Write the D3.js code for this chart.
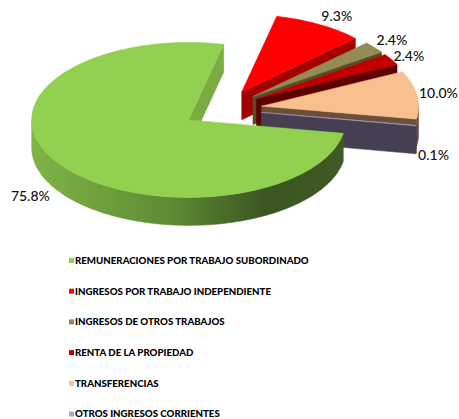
<!DOCTYPE html>
<html>
<head>
<meta charset="utf-8">
<script src="https://cdn.jsdelivr.net/npm/d3@7"></script>
<style>
  body { margin: 0; background: #fff; }
  svg { display: block; }
</style>
</head>
<body>
<script>
// chart data
var categories = [
  "REMUNERACIONES POR TRABAJO SUBORDINADO",
  "INGRESOS POR TRABAJO INDEPENDIENTE",
  "INGRESOS DE OTROS TRABAJOS",
  "RENTA DE LA PROPIEDAD",
  "TRANSFERENCIAS",
  "OTROS INGRESOS CORRIENTES"
];
var values = [75.8, 9.3, 2.4, 2.4, 10.0, 0.1];

// colours (top face / cut face / legend)
var topColors  = ["#92d050", "#ff0000", "#948a54", "#c00000", "#f8bf8f", "#b2a1c7"];
var sideColors = ["#7aac42", "#a30000", "#55502c", "#5c0000", "#6b4f38", "#463f52"];

var width = 459, height = 419;
var cx = 222, cy = 109, rx = 157, ry = 77.5, depth = 28, explode = 40;

var svg = d3.select("body").append("svg")
    .attr("width", width)
    .attr("height", height);

var topColor  = d3.scaleOrdinal(categories, topColors);
var sideColor = d3.scaleOrdinal(categories, sideColors);

// gradient for the big slice's round side
var defs = svg.append("defs");
var grad = defs.append("linearGradient")
    .attr("id", "greenSide")
    .attr("gradientUnits", "userSpaceOnUse")
    .attr("x1", 30).attr("x2", 345).attr("y1", 0).attr("y2", 0);
grad.append("stop").attr("offset", "0%").attr("stop-color", "#80b547");
grad.append("stop").attr("offset", "45%").attr("stop-color", "#5e8a33");
grad.append("stop").attr("offset", "75%").attr("stop-color", "#3b5521");
grad.append("stop").attr("offset", "100%").attr("stop-color", "#3f5a24");

var start = 100 * Math.PI / 180;
var pie = d3.pie().value(function(d){ return d; }).sort(null)
    .startAngle(start).endAngle(start + 2 * Math.PI);
var arcs = pie(values);

function pt(c, t, dy) {
  return [c[0] + rx * Math.cos(t), c[1] + ry * Math.sin(t) + (dy || 0)];
}
function ring(c, a, b, dy) {
  var n = Math.max(2, Math.ceil(Math.abs(b - a) / (Math.PI / 180)));
  return d3.range(n + 1).map(function(i){ return pt(c, a + (b - a) * i / n, dy); });
}
var line = d3.line();
function shape(pts) { return line(pts) + "Z"; }

var slices = arcs.map(function(d, i) {
  var a = d.startAngle - Math.PI / 2,
      b = d.endAngle - Math.PI / 2,
      m = (a + b) / 2;
  var c = [cx + explode * Math.cos(m), cy + explode * (ry / rx) * Math.sin(m)];
  return {i: i, a: a, b: b, m: m, c: c, cat: categories[i], v: d.value};
});

// back slices first
var order = slices.slice().sort(function(p, q){ return Math.sin(p.m) - Math.sin(q.m); });

order.forEach(function(s) {
  var g = svg.append("g");
  var c = s.c;
  var side = s.i === 0 ? "url(#greenSide)" : sideColor(s.cat);

  // radial cut faces
  [[s.a, Math.cos(s.a) < 0], [s.b, Math.cos(s.b) > 0]].forEach(function(f) {
    if (!f[1]) return;
    var p = pt(c, f[0]);
    g.append("path")
        .attr("d", shape([c, p, [p[0], p[1] + depth], [c[0], c[1] + depth]]))
        .attr("fill", sideColor(s.cat))
        .attr("stroke", sideColor(s.cat))
        .attr("stroke-width", 0.5);
  });

  // round outer side (front half only)
  [0, 2 * Math.PI].forEach(function(k) {
    var lo = Math.max(s.a, k), hi = Math.min(s.b, k + Math.PI);
    if (hi <= lo) return;
    var pts = ring(c, lo, hi, 0).concat(ring(c, lo, hi, depth).reverse());
    g.append("path")
        .attr("d", shape(pts))
        .attr("fill", side)
        .attr("stroke", side)
        .attr("stroke-width", 0.5);
  });

  // top face
  g.append("path")
      .attr("d", shape([c].concat(ring(c, s.a, s.b, 0))))
      .attr("fill", topColor(s.cat))
      .attr("stroke", topColor(s.cat))
      .attr("stroke-width", 0.5);
});

// percentage labels
var fmt = d3.format(".1f");
var lab = slices.map(function(s) {
  var front = Math.sin(s.m) > 0;
  var rim = pt(s.c, s.m, front ? depth : 0);
  var right = Math.cos(s.m) > 0;
  return {s: s, right: right, x: rim[0] + (right ? 2 : -8), y: rim[1] + 10 * Math.sin(s.m)};
});

// push apart labels on the right side that are too close
var rightLabs = lab.filter(function(l){ return l.right; })
    .sort(function(p, q){ return p.y - q.y; });
for (var k = 0; k < 5; k++) {
  for (var j = 1; j < rightLabs.length; j++) {
    var gap = rightLabs[j].y - rightLabs[j - 1].y;
    if (gap < 16) {
      var shift = (16 - gap) / 2;
      rightLabs[j - 1].y -= shift;
      rightLabs[j].y += shift;
    }
  }
}

lab.forEach(function(l) {
  svg.append("text")
      .attr("x", l.x)
      .attr("y", l.y)
      .attr("dy", "0.35em")
      .attr("text-anchor", l.right ? "start" : "end")
      .style("font-family", "Lato, 'Open Sans', sans-serif")
      .style("font-weight", 500)
      .style("font-size", "14px")
      .style("fill", "#111")
      .text(fmt(l.s.v) + "%");
});

// legend
var ly = d3.scalePoint().domain(categories).range([260.5, 414]);
var legend = svg.append("g");
categories.forEach(function(cat) {
  legend.append("rect")
      .attr("x", 69).attr("y", ly(cat) - 2.5)
      .attr("width", 5).attr("height", 5)
      .attr("fill", topColor(cat));
  legend.append("text")
      .attr("x", 75).attr("y", ly(cat))
      .attr("dy", "0.36em")
      .style("font-family", "Lato, sans-serif")
      .style("font-weight", 900)
      .style("font-size", "9.7px")
      .style("fill", "#000")
      .text(cat);
});
</script>
</body>
</html>
